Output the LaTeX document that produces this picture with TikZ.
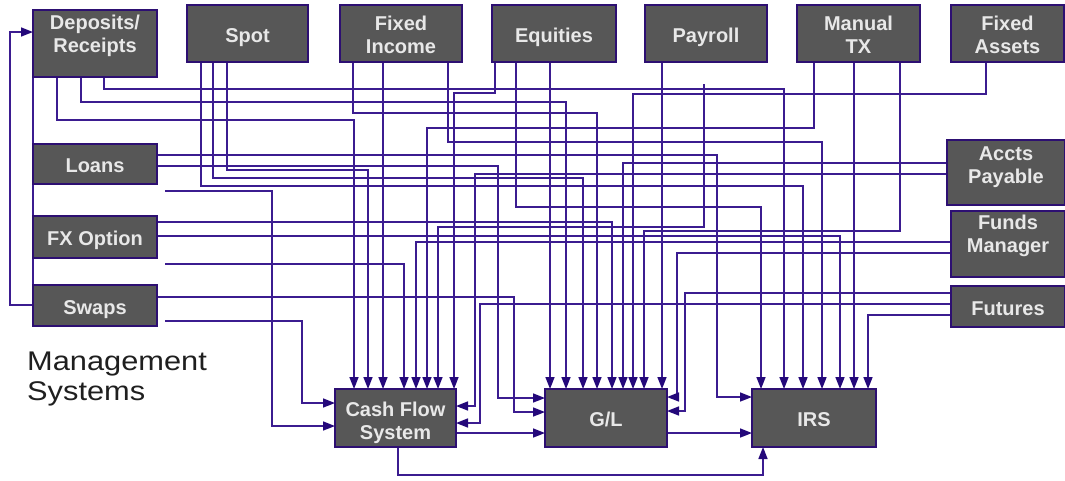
\documentclass[tikz,border=0pt]{standalone}
\usepackage{fontspec}
\setmainfont{Liberation Sans}
\newfontfamily\widesans[FakeStretch=1.14]{Liberation Sans}
\usetikzlibrary{arrows.meta,backgrounds}
\definecolor{wirec}{HTML}{3B1C90}
\definecolor{tipc}{HTML}{24087A}
\definecolor{boxfill}{HTML}{575757}
\definecolor{boxline}{HTML}{2D0F72}
\definecolor{boxtext}{HTML}{E8E8E8}
\begin{document}
\begin{tikzpicture}[x=1pt,y=-1pt,
  sysbox/.style={draw=boxline,line width=1.8pt,fill=boxfill,inner sep=0pt,outer sep=0pt,
    text=boxtext,font=\fontsize{20}{23}\selectfont\bfseries,align=center},
  oneline/.style={text height=17.5pt,text depth=0pt},
  shiftedtext/.style={text=boxtext,font=\fontsize{20}{23}\selectfont\bfseries,align=center,
    inner sep=0pt,yshift=#1},
  wire/.style={draw=wirec,line width=1.6pt},
  feed/.style={wire,-{Triangle[length=12pt,width=9pt,color=tipc]}}]
\useasboundingbox (0,0) rectangle (1065,480);

% source systems along the top
\node[sysbox,minimum width=124pt,minimum height=67pt,
  label={[shiftedtext=8pt]center:{Deposits/\\Receipts}}] (dep) at (95,43.5) {};
\node[sysbox,oneline,minimum width=121pt,minimum height=57pt] (spot) at (247.5,33.5) {Spot};
\node[sysbox,minimum width=122pt,minimum height=57pt,
  label={[shiftedtext=-1.5pt]center:{Fixed\\Income}}] (fi) at (401,33.5) {};
\node[sysbox,oneline,minimum width=124pt,minimum height=57pt] (eq) at (554,33.5) {Equities};
\node[sysbox,oneline,minimum width=122pt,minimum height=57pt] (pay) at (706,33.5) {Payroll};
\node[sysbox,minimum width=123pt,minimum height=57pt,
  label={[shiftedtext=-1.5pt]center:{Manual\\TX}}] (man) at (858.5,33.5) {};
\node[sysbox,minimum width=113pt,minimum height=57pt,
  label={[shiftedtext=-1.5pt]center:{Fixed\\Assets}}] (fa) at (1007.5,33.5) {};

% source systems on the left
\node[sysbox,oneline,minimum width=124pt,minimum height=40pt] (loans) at (95,164) {Loans};
\node[sysbox,oneline,minimum width=124pt,minimum height=42pt] (fx) at (95,237) {FX Option};
\node[sysbox,oneline,minimum width=124pt,minimum height=41pt] (swaps) at (95,305.5) {Swaps};

% source systems on the right
\node[sysbox,minimum width=118pt,minimum height=65pt,
  label={[shiftedtext=5pt]center:{Accts\\Payable}}] (ap) at (1006,172.5) {};
\node[sysbox,minimum width=114pt,minimum height=66pt,
  label={[shiftedtext=8pt]center:{Funds\\Manager}}] (fm) at (1008,244) {};
\node[sysbox,oneline,minimum width=114pt,minimum height=41pt] (fut) at (1008,306.5) {Futures};

% receiving systems
\node[sysbox,minimum width=121pt,minimum height=58pt,
  label={[shiftedtext=-5pt]center:{Cash Flow\\System}}] (cfs) at (395.5,418) {};
\node[sysbox,oneline,minimum width=122pt,minimum height=58pt] (gl) at (606,418) {G/L};
\node[sysbox,oneline,minimum width=124pt,minimum height=58pt] (irs) at (814,418) {IRS};

\node[anchor=north west,inner sep=0pt,align=left,text=black!88,
  font=\widesans\fontsize{27}{30}\selectfont] (mgmt) at (27,352) {Management\\Systems};

% loose feed ends
\coordinate (paytap) at (704,84);
\coordinate (loantap) at (165,191);
\coordinate (fxtap) at (165,264);
\coordinate (swaptap) at (165,321);

\begin{scope}[on background layer]
% Deposits/Receipts
\draw[feed] ([xshift=71pt]dep.south west) |- (784,89) -- ([xshift=32pt]irs.north west);
\draw[feed] ([xshift=48pt]dep.south west) |- (566,102) -- ([xshift=21pt]gl.north west);
\draw[feed] ([xshift=24pt]dep.south west) |- (354,120) -- ([xshift=19pt]cfs.north west);
% Spot
\draw[feed] ([xshift=40pt]spot.south west) |- (368,170) -- ([xshift=33pt]cfs.north west);
\draw[feed] ([xshift=26pt]spot.south west) |- (583,178) -- ([xshift=38pt]gl.north west);
\draw[feed] ([xshift=14pt]spot.south west) |- (803,186) -- ([xshift=51pt]irs.north west);
% Fixed Income
\draw[feed] ([xshift=43pt]fi.south west) -- ([xshift=48pt]cfs.north west);
\draw[feed] ([xshift=13pt]fi.south west) |- (597,113) -- ([xshift=52pt]gl.north west);
\draw[feed] ([xshift=108pt]fi.south west) |- (822,142) -- ([xshift=70pt]irs.north west);
% Equities
\draw[feed] ([xshift=3pt]eq.south west) |- (454,93) -- ([xshift=119pt]cfs.north west);
\draw[feed] ([xshift=24pt]eq.south west) |- (761,207) -- ([xshift=9pt]irs.north west);
\draw[feed] ([xshift=58pt]eq.south west) -- ([xshift=5pt]gl.north west);
% Payroll
\draw[feed] ([xshift=17pt]pay.south west) -- ([xshift=117pt]gl.north west);
\draw[feed] (paytap) |- (438,227) -- ([xshift=103pt]cfs.north west);
% Manual TX
\draw[feed] ([xshift=17pt]man.south west) |- (427,128) -- ([xshift=92pt]cfs.north west);
\draw[feed] ([xshift=57pt]man.south west) -- ([xshift=102pt]irs.north west);
\draw[feed] ([xshift=103pt]man.south west) |- (644,231) -- ([xshift=99pt]gl.north west);
% Fixed Assets
\draw[feed] ([xshift=35pt]fa.south west) |- (633,94) -- ([xshift=88pt]gl.north west);
% Loans
\draw[feed] ([yshift=-11pt]loans.north east) -| (717,397) -- ([yshift=-8pt]irs.north west);
\draw[feed] ([yshift=-22pt]loans.north east) -| (498,398) -- ([yshift=-9pt]gl.north west);
\draw[feed] (loantap) -| (272,426) -- ([yshift=-37pt]cfs.north west);
% FX Option
\draw[feed] ([yshift=-6pt]fx.north east) -| ([xshift=67pt]gl.north west);
\draw[feed] ([yshift=-20pt]fx.north east) -| ([xshift=88pt]irs.north west);
\draw[feed] (fxtap) -| ([xshift=69pt]cfs.north west);
% Swaps
\draw[feed] ([yshift=-12pt]swaps.north east) -| (514,412) -- ([yshift=-23pt]gl.north west);
\draw[feed] (swaptap) -| (302,403) -- ([yshift=-14pt]cfs.north west);
\draw[feed] ([yshift=-20pt]swaps.north west) -| (10,32) -- ([yshift=-22pt]dep.north west);
\draw[wire] (dep.south west) -- (swaps.north west);
% Accts Payable
\draw[feed] ([yshift=-23pt]ap.north west) -| ([xshift=78pt]gl.north west);
\draw[feed] ([yshift=-34pt]ap.north west) -| (475,406) -- ([yshift=-17pt]cfs.north east);
% Funds Manager
\draw[feed] ([yshift=-31pt]fm.north west) -| ([xshift=81pt]cfs.north west);
\draw[feed] ([yshift=-42pt]fm.north west) -| (677,397) -- ([yshift=-8pt]gl.north east);
% Futures
\draw[feed] ([yshift=-7pt]fut.north west) -| (685,411) -- ([yshift=-22pt]gl.north east);
\draw[feed] ([yshift=-18pt]fut.north west) -| (480,423) -- ([yshift=-34pt]cfs.north east);
\draw[feed] ([yshift=-29pt]fut.north west) -| ([xshift=116pt]irs.north west);
% between the receiving systems
\draw[feed] ([yshift=-44pt]cfs.north east) -- ([yshift=-44pt]gl.north west);
\draw[feed] ([yshift=-44pt]gl.north east) -- ([yshift=-44pt]irs.north west);
\draw[feed] ([xshift=63pt]cfs.south west) |- (763,475) -- ([xshift=11pt]irs.south west);
\end{scope}
\end{tikzpicture}
\end{document}
